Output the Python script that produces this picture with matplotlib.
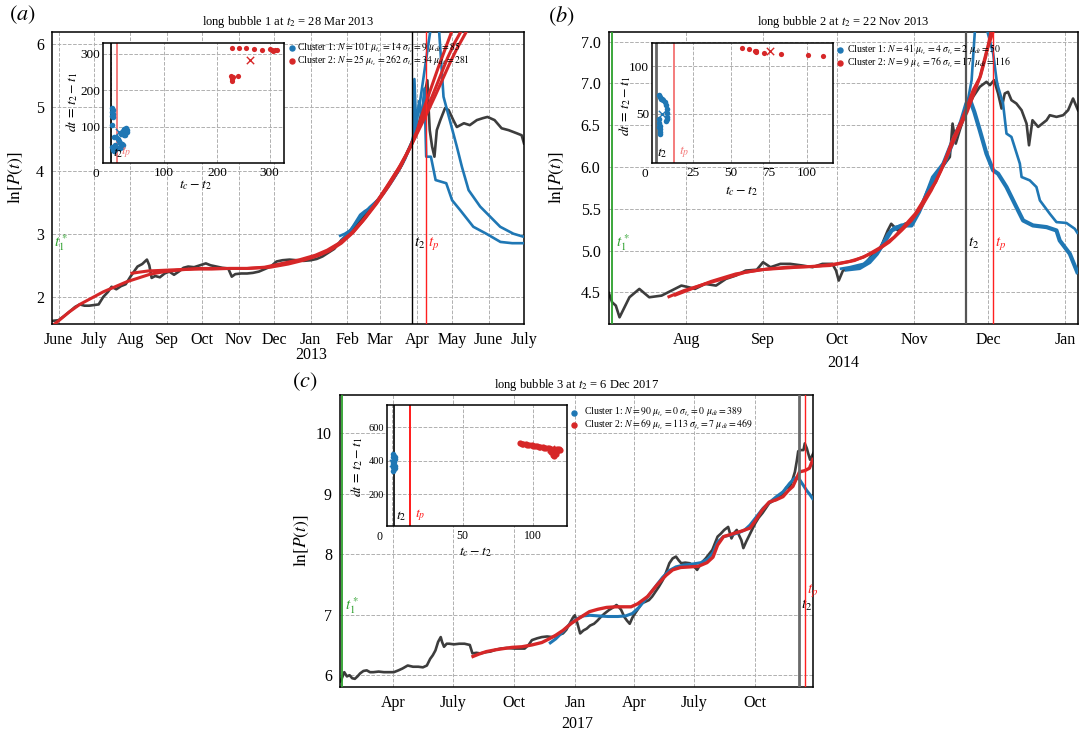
import numpy as np
import pandas as pd
import matplotlib
matplotlib.use('Agg')
import matplotlib.pyplot as plt
import matplotlib.dates as mdates
from matplotlib.transforms import offset_copy

plt.rcParams['font.family'] = ['Liberation Serif', 'DejaVu Serif']
plt.rcParams['mathtext.fontset'] = 'stix'

BLUE = '#1f77b4'
RED = '#d62728'
GREY = '#3d3d3d'
GREEN = '#2ca02c'
W, H = 1079.0, 734.0

# ---------------- panel (a): days counted from 1 Jun 2012 ----------------
a_base = '2012-06-01'
a_price_day = [-5, 0, 5, 9, 14, 18, 22, 26, 30, 34, 38, 42, 45, 49, 53, 57, 61, 64, 67, 71,
               75, 77, 79, 82, 86, 90, 94, 98, 102, 106, 110, 115, 120, 125, 129, 134, 139, 144, 147, 150,
               155, 160, 165, 170, 175, 180, 185, 190, 196, 202, 208, 214, 219, 224, 229, 234, 240, 245, 249, 253,
               257, 262, 266, 270, 274, 278, 283, 288, 292, 296, 299, 301, 303, 306, 309, 311, 313, 314, 315, 317,
               319, 321, 324, 328, 331, 335, 338, 341, 344, 349, 355, 360, 364, 370, 376, 382, 389, 393, 395]
a_price_val = [1.62, 1.63, 1.70, 1.76, 1.84, 1.88, 1.86, 1.86, 1.87, 1.88, 2.00, 2.08, 2.16, 2.12, 2.17, 2.20, 2.32, 2.40, 2.48, 2.52,
               2.59, 2.50, 2.30, 2.33, 2.31, 2.37, 2.40, 2.35, 2.40, 2.46, 2.48, 2.47, 2.50, 2.53, 2.50, 2.48, 2.46, 2.45, 2.32, 2.36,
               2.37, 2.37, 2.38, 2.40, 2.44, 2.48, 2.56, 2.58, 2.59, 2.58, 2.57, 2.58, 2.60, 2.64, 2.70, 2.76, 2.90, 2.97, 3.06, 3.14,
               3.24, 3.33, 3.43, 3.52, 3.59, 3.70, 3.85, 3.98, 4.11, 4.30, 4.42, 4.50, 4.62, 4.76, 5.00, 5.25, 5.43, 5.00, 4.64, 4.38,
               4.22, 4.64, 4.80, 4.99, 4.96, 4.80, 4.69, 4.72, 4.75, 4.72, 4.80, 4.83, 4.85, 4.80, 4.67, 4.64, 4.59, 4.56, 4.43]
a_red1_day = [-4, 0, 9, 18, 28, 38, 48, 58, 68, 78, 90, 105, 120, 140, 160, 180, 195, 208, 220, 230,
              240, 250, 260, 270, 280, 290, 300, 306, 312, 318, 324, 330, 336, 342]
a_red1_val = [1.56, 1.62, 1.76, 1.88, 1.98, 2.08, 2.16, 2.24, 2.30, 2.36, 2.40, 2.43, 2.45, 2.45, 2.45, 2.47, 2.52, 2.58, 2.65, 2.73,
              2.85, 3.02, 3.24, 3.48, 3.75, 4.05, 4.43, 4.68, 4.95, 5.22, 5.50, 5.78, 6.02, 6.22]
a_red2_day = [61, 68, 76, 88, 100, 115, 130, 145, 160, 175, 190, 205, 218, 228, 238, 248, 258, 268, 278, 288,
              296, 302, 308, 314, 320, 326, 332, 338, 344, 349]
a_red2_val = [2.37, 2.39, 2.41, 2.42, 2.43, 2.44, 2.44, 2.45, 2.45, 2.47, 2.53, 2.59, 2.66, 2.74, 2.85, 3.00, 3.20, 3.45, 3.73, 4.02,
              4.28, 4.50, 4.73, 4.96, 5.20, 5.45, 5.70, 5.93, 6.13, 6.30]
a_red3_day = [230, 240, 250, 260, 270, 280, 290, 298, 304, 310, 316, 322, 328, 334]
a_red3_val = [2.74, 2.87, 3.03, 3.25, 3.50, 3.78, 4.08, 4.36, 4.62, 4.98, 5.30, 5.62, 5.92, 6.22]
a_blue1_day = [238, 243, 248, 252, 256, 260, 264, 268, 272, 276, 280, 284, 288, 292, 296, 299, 301, 302, 303.5, 306,
               308, 310.5, 312, 316, 320, 329, 334, 341, 352, 363, 375, 385, 395]
a_blue1_val = [2.96, 3.00, 3.06, 3.18, 3.30, 3.36, 3.40, 3.46, 3.56, 3.66, 3.76, 3.86, 3.98, 4.12, 4.28, 4.42, 4.48, 5.45, 4.70, 5.10,
               4.80, 5.30, 4.22, 4.22, 3.85, 3.80, 3.53, 3.37, 3.11, 3.00, 2.87, 2.85, 2.85]
a_blue2_day = [240, 246, 252, 258, 264, 270, 276, 282, 288, 294, 299, 301, 304, 307, 311, 315.4, 319, 323, 326.7, 332,
               338, 342.3, 348, 357.8, 366.3, 374.8, 386, 395]
a_blue2_val = [2.90, 3.02, 3.16, 3.30, 3.42, 3.52, 3.64, 3.80, 3.98, 4.18, 4.40, 4.54, 4.80, 5.12, 5.64, 6.20, 6.50, 6.20, 5.17, 4.80,
               4.38, 4.06, 3.69, 3.43, 3.27, 3.11, 3.00, 2.95]
a_ticks = ['2012-06-01', '2012-07-01', '2012-08-01', '2012-09-01', '2012-10-01', '2012-11-01', '2012-12-01',
           '2013-01-01', '2013-02-01', '2013-03-01', '2013-04-01', '2013-05-01', '2013-06-01', '2013-07-01']
a_ticklabels = ['June', 'July', 'Aug', 'Sep', 'Oct', 'Nov', 'Dec', 'Jan', 'Feb', 'Mar', 'Apr', 'May', 'June', 'July']

# ---------------- panel (b): days counted from 1 Aug 2013 ----------------
b_base = '2013-08-01'
b_price_day = [-31.3, -30, -28.5, -27, -25, -23, -19, -15, -10, -6, -2, 1, 3.5, 7.6, 12, 16, 20, 24, 28.5, 31,
               34, 38, 42, 47, 51, 55, 59, 60.5, 61.6, 63.3, 67.5, 71.6, 74.4, 78.6, 81.4, 82.8, 85.5, 88.3, 91, 94,
               96.7, 99.4, 102.4, 106.5, 107.6, 108.9, 110.5, 113.2, 115.9, 118.6, 121.3, 122.7, 124.4, 126, 127.4, 128.7, 130, 131.4, 133.4, 135.5,
               137.5, 138.5, 139.9, 142.2, 145.6, 146.9, 149.6, 152.3, 154.3, 156.3, 158.3]
b_price_val = [4.49, 4.38, 4.34, 4.20, 4.32, 4.44, 4.54, 4.44, 4.46, 4.52, 4.58, 4.56, 4.54, 4.60, 4.58, 4.66, 4.70, 4.76, 4.77, 4.86,
               4.80, 4.84, 4.84, 4.82, 4.80, 4.84, 4.84, 4.76, 4.64, 4.76, 4.80, 4.82, 4.92, 5.04, 5.24, 5.32, 5.24, 5.32, 5.34, 5.48,
               5.64, 5.84, 5.96, 6.12, 6.52, 6.28, 6.44, 6.68, 6.84, 6.96, 7.02, 6.98, 7.04, 6.88, 6.70, 6.88, 6.90, 6.80, 6.76, 6.68,
               6.52, 6.26, 6.56, 6.48, 6.56, 6.62, 6.60, 6.62, 6.68, 6.82, 6.68]
b_red1_day = [-7.6, -1, 7.6, 16, 24, 33, 41, 52, 60.5, 66, 71.6, 78.6, 84, 88.3, 92.5, 96.7, 100.8, 104.3, 107.8, 111.3,
              113.2, 115.9, 118.6, 121.3, 124, 125]
b_red1_val = [4.44, 4.52, 4.60, 4.67, 4.74, 4.78, 4.80, 4.81, 4.84, 4.87, 4.92, 5.04, 5.16, 5.30, 5.44, 5.64, 5.82, 6.06, 6.34, 6.56,
              6.70, 6.92, 7.07, 7.38, 7.62, 7.70]
b_red2_day = [-5, 2, 10, 20, 30, 45, 58, 68, 76, 82, 87, 91, 95, 99, 103, 107, 110.6, 113.5, 116.5, 119, 121, 123, 124]
b_red2_val = [4.46, 4.54, 4.63, 4.72, 4.77, 4.80, 4.82, 4.88, 4.98, 5.10, 5.24, 5.36, 5.52, 5.72, 5.96, 6.24, 6.48, 6.66, 6.90, 7.10,
              7.32, 7.60, 7.70]
b_blue1_day = [62, 66, 71.6, 75.8, 78.6, 81.4, 84.1, 88.3, 91.8, 95.3, 99.4, 103.6, 107.1, 110.6, 113.2, 115.3, 116.6, 119, 121.7, 124,
               125.4, 126, 128, 129.4, 131.4, 134.8, 135.5, 138.8, 141.5, 142.9, 146.9, 149.6, 153.6, 157, 158.3]
b_blue1_val = [4.78, 4.80, 4.84, 4.94, 5.04, 5.20, 5.28, 5.31, 5.34, 5.56, 5.88, 6.04, 6.30, 6.52, 6.70, 7.04, 7.62, 8.00, 7.62, 7.36,
               7.04, 6.96, 6.76, 6.40, 6.36, 6.04, 5.88, 5.84, 5.76, 5.60, 5.44, 5.34, 5.33, 5.26, 5.20]
b_blue2_day = [64, 70, 74, 77, 80, 83, 87, 91, 94, 97.5, 101, 104.5, 108, 111, 113.2, 114.7, 116.4, 118.6, 121.3, 124,
               126, 129.4, 133.4, 136.1, 140.1, 145.6, 149.6, 150.9, 155, 158.3]
b_blue2_val = [4.77, 4.79, 4.86, 4.96, 5.10, 5.24, 5.30, 5.30, 5.46, 5.70, 5.90, 6.06, 6.32, 6.54, 6.76, 6.80, 6.66, 6.44, 6.16, 5.96,
               5.92, 5.76, 5.52, 5.36, 5.30, 5.28, 5.24, 5.12, 4.96, 4.72]
b_ticks = ['2013-08-01', '2013-09-01', '2013-10-01', '2013-11-01', '2013-12-01', '2014-01-01']
b_ticklabels = ['Aug', 'Sep', 'Oct', 'Nov', 'Dec', 'Jan']

# ---------------- panel (c): days counted from 1 Apr 2016 ----------------
c_base = '2016-04-01'
c_price_day = [-80, -78, -74, -70, -66, -62, -58, -54, -50, -45, -40, -35, -30, -22, -14, -6, 1, 8, 14, 22,
               30, 38, 45, 51, 56, 60, 64, 68, 72, 74, 77, 81, 85, 92, 100, 108, 116, 120, 126, 132,
               140, 147, 155, 163, 172, 184, 192, 199, 205, 210, 218, 225, 233, 241, 249, 257, 262, 267, 272, 275,
               279, 283, 288, 293, 298, 304, 309, 314, 320, 327, 333, 338, 342, 345, 350, 354, 358, 362, 366, 371,
               376, 381, 387, 392, 397, 402, 408, 413, 418, 423, 428, 432, 436, 442, 449, 455, 460, 466, 473, 478,
               483, 487, 491, 496, 501, 507, 512, 516, 520, 524, 527, 530, 534, 538, 543, 548, 553, 559, 564, 569,
               575, 580, 585, 590, 595, 600, 605, 608, 611, 613, 617, 621, 623, 626, 628, 631, 636]
c_price_val = [5.90, 5.94, 6.05, 5.98, 6.00, 5.95, 5.94, 5.98, 6.03, 6.07, 6.08, 6.05, 6.05, 6.06, 6.05, 6.05, 6.05, 6.08, 6.11, 6.16,
               6.14, 6.14, 6.13, 6.16, 6.27, 6.33, 6.41, 6.55, 6.63, 6.55, 6.47, 6.52, 6.52, 6.51, 6.52, 6.52, 6.50, 6.36, 6.37, 6.36,
               6.38, 6.39, 6.42, 6.44, 6.45, 6.44, 6.44, 6.44, 6.50, 6.58, 6.61, 6.63, 6.64, 6.63, 6.66, 6.69, 6.75, 6.85, 6.95, 6.99,
               6.85, 6.69, 6.74, 6.77, 6.82, 6.85, 6.90, 6.96, 7.02, 7.08, 7.12, 7.16, 7.12, 7.08, 6.96, 6.90, 6.85, 6.95, 7.02, 7.10,
               7.19, 7.21, 7.24, 7.30, 7.38, 7.46, 7.57, 7.70, 7.85, 7.93, 7.96, 7.90, 7.85, 7.86, 7.85, 7.80, 7.74, 7.85, 7.93, 8.00,
               8.07, 8.18, 8.29, 8.34, 8.40, 8.45, 8.26, 8.35, 8.40, 8.30, 8.23, 8.10, 8.20, 8.29, 8.40, 8.51, 8.60, 8.68, 8.76, 8.84,
               8.88, 8.90, 8.95, 9.01, 9.10, 9.10, 9.25, 9.36, 9.55, 9.70, 9.72, 9.72, 9.83, 9.75, 9.67, 9.56, 9.67]
c_red_day = [118.5, 130, 141, 155, 167, 180, 195, 210, 225, 236, 246, 257, 270, 284, 297, 310, 323, 336, 349, 360,
             370, 385, 400, 413, 423, 435, 450, 462, 475, 484, 491, 500, 512, 527, 540, 548, 558, 569, 580, 590,
             598, 605, 615, 623, 630, 636]
c_red_val = [6.30, 6.35, 6.39, 6.42, 6.44, 6.46, 6.47, 6.50, 6.54, 6.60, 6.66, 6.74, 6.86, 6.96, 7.05, 7.09, 7.12, 7.13, 7.13, 7.13,
             7.18, 7.30, 7.50, 7.65, 7.74, 7.78, 7.79, 7.80, 7.86, 7.95, 8.15, 8.29, 8.33, 8.38, 8.43, 8.55, 8.72, 8.86, 8.90, 8.95,
             9.05, 9.12, 9.36, 9.38, 9.42, 9.59]
c_blue_day = [236, 246, 257, 267, 278, 288, 298, 310, 325, 340, 352, 362, 372, 384, 396, 408, 418, 428, 440, 455,
              466, 476, 484, 491, 500, 512, 522, 532, 540, 550, 560, 570, 580, 590, 600, 608, 614, 620, 626, 631, 636]
c_blue_val = [6.52, 6.60, 6.72, 6.84, 6.93, 6.98, 6.99, 6.98, 6.97, 6.97, 6.98, 7.02, 7.12, 7.28, 7.45, 7.62, 7.73, 7.79, 7.82, 7.84,
              7.86, 7.92, 8.02, 8.20, 8.29, 8.32, 8.35, 8.40, 8.48, 8.62, 8.76, 8.86, 8.95, 9.03, 9.17, 9.26, 9.25, 9.15, 9.05, 8.98, 8.90]
c_ticks = ['2016-04-01', '2016-07-01', '2016-10-01', '2017-01-01', '2017-04-01', '2017-07-01', '2017-10-01']
c_ticklabels = ['Apr', 'July', 'Oct', 'Jan', 'Apr', 'July', 'Oct']

# ---------------- inset clusters: (t_c - t_2, dt) ----------------
ia_c1_x = [2, 3, 2, 3, 2, 3, 1, 2, 4, 3, 6, 6, 9, 12, 14, 16, 18, 20, 22, 20, 17, 14, 10, 8, 18, 22, 25, 28, 30, 29, 27, 24]
ia_c1_y = [150, 145, 140, 135, 130, 125, 105, 45, 40, 36, 34, 72, 70, 66, 60, 55, 50, 52, 48, 44, 42, 40, 42, 50, 80, 86, 92, 95, 90, 84, 78, 76]
ia_c2_x = [228, 242, 255, 271, 286, 300, 304, 307, 310, 313, 227, 228, 229, 228, 231, 240]
ia_c2_y = [316, 315, 314, 313, 311, 312, 309, 308, 310, 311, 238, 233, 229, 225, 235, 238]
ia_centres = [(14, 85), (262, 281)]
ia_labels = [r'Cluster 1: $N = 101$ $\mu_{t_c} = 14$ $\sigma_{t_c} = 9$ $\mu_{dt} = 85$',
             r'Cluster 2: $N = 25$ $\mu_{t_c} = 262$ $\sigma_{t_c} = 34$ $\mu_{dt} = 281$']

ib_c1_x = [2, 2.5, 3.2, 4, 5, 6, 6.8, 7.2, 7.5, 7.6, 7.5, 7, 2, 2.3, 2.5, 2.6, 2.8, 3, 2.2]
ib_c1_y = [70, 68, 66, 65, 64, 62, 59, 55, 51, 47, 44, 42, 44, 40, 37, 34, 31, 29, 36]
ib_c2_x = [57, 62, 66.4, 66.4, 72, 82.8, 101, 111, 66]
ib_c2_y = [119, 118, 116.6, 115, 114, 113, 112, 111, 116]
ib_centres = [(4, 50), (76, 116)]
ib_labels = [r'Cluster 1: $N = 41$ $\mu_{t_c} = 4$ $\sigma_{t_c} = 2$ $\mu_{dt} = 50$',
             r'Cluster 2: $N = 9$ $\mu_{t_c} = 76$ $\sigma_{t_c} = 17$ $\mu_{dt} = 116$']

ic_c1_x = [1, 1.5, 1, 2, 1, 1.5, 1, 2, 1, 1.5, 1, 2, 0.5, 2]
ic_c1_y = [440, 430, 420, 410, 400, 390, 380, 370, 360, 350, 340, 425, 395, 355]
ic_c2_x = [91, 93, 95, 97, 99, 101, 103, 105, 107, 109, 111, 113, 115, 117, 119, 92, 96, 100, 104, 108, 112, 116,
           112, 113, 114, 115, 114, 115, 116, 113, 117, 118]
ic_c2_y = [505, 502, 499, 496, 493, 491, 488, 485, 482, 479, 476, 473, 471, 468, 465, 498, 493, 488, 482, 476, 470, 464,
           462, 455, 448, 442, 436, 430, 438, 466, 460, 470]
ic_centres = [(1, 389), (113, 469)]
ic_labels = [r'Cluster 1: $N = 90$ $\mu_{t_c} = 0$ $\sigma_{t_c} = 0$ $\mu_{dt} = 389$',
             r'Cluster 2: $N = 69$ $\mu_{t_c} = 113$ $\sigma_{t_c} = 7$ $\mu_{dt} = 469$']


def to_x(base, days):
    return mdates.date2num(pd.Timestamp(base)) + np.asarray(days, dtype=float)


def dnum(s):
    return mdates.date2num(pd.Timestamp(s))


def px_axes(fig, left, top, right, bottom):
    return fig.add_axes([left / W, 1 - bottom / H, (right - left) / W, (bottom - top) / H])


def fig_text(fig, x, y, s, **kw):
    fig.text(x / W, 1 - y / H, s, ha='center', va='center', **kw)


def style(ax, size, pad):
    ax.grid(True, color='#b0b0b0', linestyle='--', linewidth=0.7)
    ax.set_axisbelow(True)
    ax.tick_params(length=0, labelsize=size, pad=pad)
    for sp in ax.spines.values():
        sp.set_color('black')
        sp.set_linewidth(1.1)


def main_panel(ax, base, price, fits, xlim, ylim, yticks, yticklabels, ticks, ticklabels,
               t1, t2, tp, t2_style, title, tfrac=(0.277, 0.277)):
    ax.plot(to_x(base, price[0]), price[1], color=GREY, lw=1.9, zorder=2)
    for days, vals, color, lw in fits:
        ax.plot(to_x(base, days), vals, color=color, lw=lw, zorder=3, solid_capstyle='butt')
    ax.axvline(to_x(base, t1), color=GREEN, lw=1.3, zorder=4)
    ax.axvline(dnum(t2), zorder=4, **t2_style)
    ax.axvline(dnum(tp), color='#ff2020', lw=1.0, zorder=4)
    ax.annotate(r'$t_1^*$', xy=(to_x(base, t1), 0.277), xycoords=('data', 'axes fraction'),
                xytext=(2.5, 0), textcoords='offset points', ha='left', va='center',
                color=GREEN, fontsize=11, annotation_clip=False)
    ax.annotate(r'$t_2$', xy=(dnum(t2), tfrac[0]), xycoords=('data', 'axes fraction'),
                xytext=(1.5, 0), textcoords='offset points', ha='left', va='center', fontsize=11)
    ax.annotate(r'$t_p$', xy=(dnum(tp), tfrac[1]), xycoords=('data', 'axes fraction'),
                xytext=(1.5, 0), textcoords='offset points', ha='left', va='center',
                color='#ff2020', fontsize=11)
    ax.set_xlim(to_x(base, xlim[0]), to_x(base, xlim[1]))
    ax.set_ylim(*ylim)
    ax.set_yticks(yticks)
    ax.set_yticklabels(yticklabels)
    ax.set_xticks([dnum(t) for t in ticks])
    ax.set_xticklabels(ticklabels)
    style(ax, 11.5, 6)
    ax.set_title(title, fontsize=9, pad=5)


def cluster_legend(ax, labels, first_px, step_px, mark_px, text_px):
    # rows placed to the right of the inset, in pixel offsets from its top-right corner
    for i, (lab, col) in enumerate(zip(labels, [BLUE, RED])):
        dy = -(first_px + step_px * i)
        tr_m = offset_copy(ax.transAxes, fig=fig, x=mark_px, y=dy, units='dots')
        ax.plot([1.0], [1.0], 'o', ms=3.6, color=col, transform=tr_m, clip_on=False, zorder=5)
        tr_t = offset_copy(ax.transAxes, fig=fig, x=text_px, y=dy, units='dots')
        ax.text(1.0, 1.0, lab, transform=tr_t, ha='left', va='center', fontsize=7, clip_on=False)


def inset_panel(ax, c1, c2, centres, labels, xlim, ylim, xticks, yticks, t2x, tpx,
                t2_style, tp_color, xsize, ysize, s2=14):
    ax.scatter(c1[0], c1[1], s=16, color=BLUE, zorder=3, linewidths=0)
    ax.scatter(c2[0], c2[1], s=s2, color=RED, zorder=3, linewidths=0)
    ax.scatter([centres[0][0]], [centres[0][1]], marker='x', s=28, color=BLUE, linewidths=1.0, zorder=4)
    ax.scatter([centres[1][0]], [centres[1][1]], marker='x', s=28, color=RED, linewidths=1.0, zorder=4)
    ax.axvline(t2x, zorder=2, **t2_style)
    ax.axvline(tpx, color=tp_color, lw=1.4, zorder=2)
    ax.annotate(r'$t_2$', xy=(t2x, 0.08), xycoords=('data', 'axes fraction'), xytext=(1, 0),
                textcoords='offset points', ha='left', va='center', fontsize=10)
    ax.annotate(r'$t_p$', xy=(tpx, 0.09), xycoords=('data', 'axes fraction'), xytext=(3.5, 0),
                textcoords='offset points', ha='left', va='center', fontsize=10, color=tp_color)
    ax.set_xlim(*xlim)
    ax.set_ylim(*ylim)
    ax.set_xticks(xticks)
    ax.set_xticklabels([''] + [str(t) for t in xticks[1:]])
    ax.set_yticks(yticks)
    style(ax, xsize, 3)
    ax.tick_params(axis='y', labelsize=ysize, pad=2)
    ax.annotate('0', xy=(0, 0), xycoords='axes fraction', xytext=(-3, -3.5), textcoords='offset points',
                ha='right', va='top', fontsize=xsize)


fig = plt.figure(figsize=(W / 100, H / 100), dpi=100)
fig.patch.set_facecolor('white')

# ---- (a)
ax_a = px_axes(fig, 52.3, 31.7, 524, 324)
main_panel(ax_a, a_base, (a_price_day, a_price_val),
           [(a_blue1_day, a_blue1_val, BLUE, 1.9), (a_blue2_day, a_blue2_val, BLUE, 1.9),
            (a_red1_day, a_red1_val, RED, 2.2), (a_red2_day, a_red2_val, RED, 2.2),
            (a_red3_day, a_red3_val, RED, 2.2)],
           (-5.3, 395), (1.57, 6.2), [2, 3, 4, 5, 6], ['2', '3', '4', '5', '6'],
           a_ticks, a_ticklabels, -6.5, '2013-03-28', '2013-04-09',
           dict(color='black', lw=1.0), r'long bubble 1 at $t_2$ = 28 Mar 2013')
ax_a.text(dnum('2013-01-01'), -0.106, '2013', transform=ax_a.get_xaxis_transform(),
          ha='center', va='center', fontsize=11.5)

# ---- (b)
ax_b = px_axes(fig, 608.9, 31.7, 1078, 324)
main_panel(ax_b, b_base, (b_price_day, b_price_val),
           [(b_blue1_day, b_blue1_val, BLUE, 1.9), (b_blue2_day, b_blue2_val, BLUE, 3.0),
            (b_red1_day, b_red1_val, RED, 2.2), (b_red2_day, b_red2_val, RED, 2.2)],
           (-31.3, 158.3), (4.12, 7.62), [4.5, 5.0, 5.5, 6.0, 6.5, 7.0, 7.5],
           ['4.5', '5.0', '5.5', '6.0', '6.5', '7.0', '7.0'],
           b_ticks, b_ticklabels, -29.9, '2013-11-22', '2013-12-03',
           dict(color='#555555', lw=1.6), r'long bubble 2 at $t_2$ = 22 Nov 2013')
ax_b.text(0.5, -0.133, '2014', transform=ax_b.transAxes, ha='center', va='center', fontsize=11.5)

# ---- (c)
ax_c = px_axes(fig, 340.3, 395, 813.4, 686.7)
main_panel(ax_c, c_base, (c_price_day, c_price_val),
           [(c_blue_day, c_blue_val, BLUE, 2.2), (c_red_day, c_red_val, RED, 2.4)],
           (-80, 636), (5.81, 10.63), [6, 7, 8, 9, 10], ['6', '7', '8', '9', '10'],
           c_ticks, c_ticklabels, -78, '2017-12-06', '2017-12-15',
           dict(color='#6a6a6a', lw=2.0), r'long bubble 3 at $t_2$ = 6 Dec 2017',
           tfrac=(0.28, 0.33))
ax_c.text(0.5, -0.128, '2017', transform=ax_c.transAxes, ha='center', va='center', fontsize=11.5)

# ---- y labels and panel letters
fig_text(fig, 15.5, 178, r'$\ln[P(t)]$', rotation=90, fontsize=12.5)
fig_text(fig, 556, 178, r'$\ln[P(t)]$', rotation=90, fontsize=12.5)
fig_text(fig, 301, 541, r'$\ln[P(t)]$', rotation=90, fontsize=12.5)
fig_text(fig, 22, 15, r'$(a)$', fontsize=16)
fig_text(fig, 561, 16, r'$(b)$', fontsize=16)
fig_text(fig, 305, 382, r'$(c)$', fontsize=16)

# ---- insets
in_a = px_axes(fig, 103.3, 42.6, 284, 163)
inset_panel(in_a, (ia_c1_x, ia_c1_y), (ia_c2_x, ia_c2_y), ia_centres, ia_labels,
            (-15, 327), (0, 330), [0, 100, 200, 300], [100, 200, 300], 0, 10,
            dict(color='black', lw=1.2), '#f47c7c', 9.5, 9.5)
cluster_legend(in_a, ia_labels, 5.5, 13, 8, 13)
fig_text(fig, 72, 102, r'$dt\,=\,t_2 - t_1$', rotation=90, fontsize=10)
fig_text(fig, 195, 185, r'$t_c - t_2$', fontsize=10)

in_b = px_axes(fig, 651.8, 42.6, 832.7, 163)
inset_panel(in_b, (ib_c1_x, ib_c1_y), (ib_c2_x, ib_c2_y), ib_centres, ib_labels,
            (-2.6, 117.2), (-2, 125), [0, 25, 50, 75, 100], [50, 100], 0, 12,
            dict(color='#666666', lw=2.0), '#f47c7c', 9.5, 9.5)
cluster_legend(in_b, ib_labels, 7.5, 12.5, 7.6, 14)
fig_text(fig, 625, 106, r'$dt\,=\,t_2 - t_1$', rotation=90, fontsize=10)
fig_text(fig, 741, 191, r'$t_c - t_2$', fontsize=10)

in_c = px_axes(fig, 386.7, 405, 567, 526)
inset_panel(in_c, (ic_c1_x, ic_c1_y), (ic_c2_x, ic_c2_y), ic_centres, ic_labels,
            (-3.8, 124), (8, 734), [0, 50, 100], [200, 400, 600], 1.7, 13,
            dict(color='black', lw=1.2), '#ff1a1a', 8.5, 7.5, s2=20)
cluster_legend(in_c, ic_labels, 7.7, 12.3, 7.4, 16.5)
fig_text(fig, 357, 467, r'$dt\,=\,t_2 - t_1$', rotation=90, fontsize=10)
fig_text(fig, 475, 552, r'$t_c - t_2$', fontsize=10)

fig.savefig('out.png', dpi=100, facecolor='white')
